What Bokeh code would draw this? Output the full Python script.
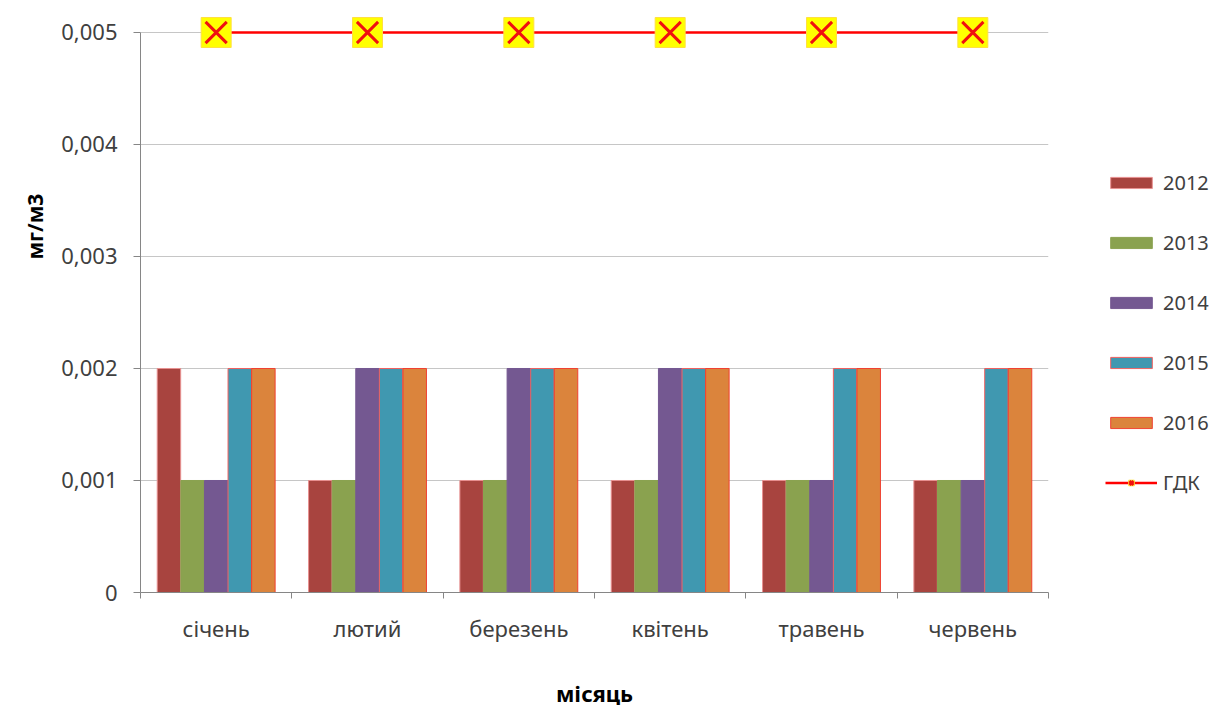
import numpy as np
from bokeh.plotting import figure
from bokeh.models import (ColumnDataSource, FixedTicker, Legend, LegendItem,
                          Title, Range1d)
from bokeh.transform import dodge
from bokeh.embed import file_html
from bokeh.resources import INLINE

# ---- data ----
months = ["січень", "лютий", "березень", "квітень", "травень", "червень"]
years = ["2012", "2013", "2014", "2015", "2016"]
v2012 = [0.002, 0.001, 0.001, 0.001, 0.001, 0.001]
v2013 = [0.001, 0.001, 0.001, 0.001, 0.001, 0.001]
v2014 = [0.001, 0.002, 0.002, 0.002, 0.001, 0.001]
v2015 = [0.002, 0.002, 0.002, 0.002, 0.002, 0.002]
v2016 = [0.002, 0.002, 0.002, 0.002, 0.002, 0.002]
gdk = [0.005, 0.005, 0.005, 0.005, 0.005, 0.005]
limit_name = "ГДК"
y_ticks = [0, 0.001, 0.002, 0.003, 0.004, 0.005]
y_tick_labels = ["0", "0,001", "0,002", "0,003", "0,004", "0,005"]
x_title = "місяць"
y_title = "мг/м3"

series = [v2012, v2013, v2014, v2015, v2016]
colors = ["#A8443F", "#8AA24F", "#745891", "#4098B0", "#DB843C"]
outlines = ["#E89090", None, None, "#F06060", "#F04030"]

centers = list(np.arange(len(months)) + 0.5)
boundaries = list(range(len(months) + 1))

src = ColumnDataSource(dict(x=centers, gdk=gdk,
                            **{y: s for y, s in zip(years, series)}))

FONT = "Noto Sans"

p = figure(frame_width=908, frame_height=582, output_backend="svg",
           toolbar_location=None,
           x_range=Range1d(0, len(months)), y_range=Range1d(0, 0.0051964),
           min_border_left=140, min_border_right=168, min_border_top=10,
           min_border_bottom=113)
p.outline_line_color = None
p.xgrid.visible = False
p.ygrid.grid_line_color = "#C6C6C6"
p.ygrid.ticker = FixedTicker(ticks=y_ticks)

# bars
bw = 0.155
renderers = []
for i, (yr, col, oc) in enumerate(zip(years, colors, outlines)):
    off = (i - 2) * 0.156
    r = p.vbar(x=dodge("x", off, range=p.x_range), top=yr, width=bw, source=src,
               fill_color=col, line_color=oc if oc else col, line_width=1)
    renderers.append(r)

# limit line with markers
ln = p.line("x", "gdk", source=src, line_color="#FF0000", line_width=2.5)
sq = p.scatter("x", "gdk", source=src, marker="square", size=30,
               fill_color="#FFFF00", line_color="#FFE040", line_width=1)
xm = p.scatter("x", "gdk", source=src, marker="x", size=30,
               line_color="#F01010", line_width=3)

# axes
xa = p.xaxis[0]
xa.ticker = FixedTicker(ticks=centers, minor_ticks=boundaries)
xa.major_label_overrides = {c: m for c, m in zip(centers, months)}
xa.major_tick_out = 0
xa.major_tick_in = 0
xa.minor_tick_out = 6
xa.minor_tick_in = 0
xa.minor_tick_line_color = "#868686"
xa.axis_line_color = "#868686"
xa.major_label_text_font = FONT
xa.major_label_text_font_size = "22px"
xa.major_label_text_color = "#404040"
xa.major_label_standoff = 14
xa.axis_label = x_title
xa.axis_label_text_font = FONT
xa.axis_label_text_font_size = "22px"
xa.axis_label_text_font_style = "bold"
xa.axis_label_text_color = "#000000"
xa.axis_label_standoff = 32

ya = p.yaxis[0]
ya.ticker = FixedTicker(ticks=y_ticks)
ya.major_label_overrides = {t: l for t, l in zip(y_ticks, y_tick_labels)}
ya.bounds = (0, 0.005)
ya.major_tick_out = 7
ya.major_tick_in = 0
ya.minor_tick_out = 0
ya.minor_tick_in = 0
ya.axis_line_color = "#868686"
ya.major_tick_line_color = "#868686"
ya.major_label_text_font = FONT
ya.major_label_text_font_size = "22px"
ya.major_label_text_color = "#404040"
ya.major_label_standoff = 16

p.add_layout(Title(text=y_title, align="left", offset=333, standoff=20,
                   text_font=FONT, text_font_size="21px", text_font_style="bold",
                   text_color="#000000"), "left")

items = [LegendItem(label=yr, renderers=[r]) for yr, r in zip(years, renderers)]
items.append(LegendItem(label=limit_name, renderers=[ln, sq, xm]))
legend = Legend(items=items, location="center_left", glyph_width=52, glyph_height=14,
                label_height=14, spacing=33, padding=0, margin=57,
                label_standoff=6, border_line_color=None,
                title=" ", title_text_font_size="10px", title_standoff=51,
                background_fill_alpha=0, label_text_font=FONT,
                label_text_font_size="20px", label_text_color="#404040")
p.add_layout(legend, "right")

open("out.html", "w").write(file_html(p, INLINE))
